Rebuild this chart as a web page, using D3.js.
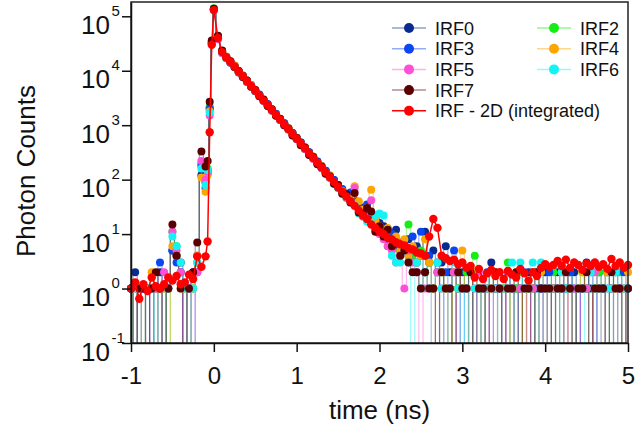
<!DOCTYPE html>
<html>
<head>
<meta charset="UTF-8">
<title>IRF photon counts</title>
<style>
  body { margin: 0; background: #fff; }
  svg { display: block; font-family: "Liberation Sans", Arial, sans-serif; }
</style>
</head>
<body>
<svg id="chart" width="635" height="432"></svg>
<script src="https://d3js.org/d3.v7.min.js"></script>
<script>
// time bins (ns)
const time = [-1, -0.95, -0.9, -0.85, -0.8, -0.75, -0.7, -0.65, -0.6, -0.55, -0.5, -0.45, -0.4, -0.35, -0.3, -0.25, -0.2, -0.15,
  -0.1, -0.075, -0.05, -0.025, 0,
  0.05, 0.1, 0.15, 0.2, 0.25, 0.3, 0.35, 0.4, 0.45, 0.5, 0.55, 0.6, 0.65, 0.7, 0.75, 0.8, 0.85, 0.9, 0.95, 1,
  1.05, 1.1, 1.15, 1.2, 1.25, 1.3, 1.35, 1.4, 1.45, 1.5, 1.55, 1.6, 1.65, 1.7, 1.75, 1.8, 1.85, 1.9, 1.95, 2,
  2.05, 2.1, 2.15, 2.2, 2.25, 2.3, 2.35, 2.4, 2.45, 2.5, 2.55, 2.6, 2.65, 2.7, 2.75, 2.8, 2.85, 2.9, 2.95, 3,
  3.05, 3.1, 3.15, 3.2, 3.25, 3.3, 3.35, 3.4, 3.45, 3.5, 3.55, 3.6, 3.65, 3.7, 3.75, 3.8, 3.85, 3.9, 3.95, 4,
  4.05, 4.1, 4.15, 4.2, 4.25, 4.3, 4.35, 4.4, 4.45, 4.5, 4.55, 4.6, 4.65, 4.7, 4.75, 4.8, 4.85, 4.9, 4.95, 5];

const irf0 = [1, 2, 0, 1, 1, 0, 1, 2, 0, 1, 5, 4, 3, 0, 1, 2, 4, 120,
  90, 150, 2000, 33000, 132000,
  42000, 23000, 18000, 14800, 12300, 9900, 8000, 6600, 5300, 4400, 3600, 2900, 2400, 1950, 1600, 1300, 1080, 880, 720, 590,
  480, 390, 320, 262, 215, 178, 146, 118, 98, 80, 66, 55, 46, 40, 33, 30, 26, 22, 19, 16,
  14, 11, 9, 12, 7, 6, 8, 5, 6, 4, 11, 3, 5, 2, 3, 6, 2, 0, 1, 2,
  1, 0, 2, 1, 0, 1, 3, 1, 0, 1, 2, 0, 1, 1, 0, 2, 1, 0, 1, 2,
  0, 1, 2, 1, 0, 1, 2, 0, 1, 3, 1, 0, 2, 1, 0, 1, 2, 1, 0, 1];

const irf2 = [1, 0, 1, 0, 1, 1, 0, 1, 1, 0, 11, 6, 2, 1, 0, 1, 3, 200,
  100, 160, 2200, 34000, 140000,
  43000, 22500, 17000, 14200, 12200, 9400, 8100, 6200, 5400, 4200, 3600, 2800, 2400, 1850, 1600, 1240, 1070, 830, 700, 550,
  470, 365, 315, 245, 212, 162, 142, 108, 95, 70, 64, 46, 52, 35, 30, 21, 24, 16, 17, 12,
  9, 6, 7, 8, 5, 6, 15, 4, 3, 5, 2, 3, 1, 2, 2, 1, 0, 2, 1, 1,
  2, 0, 4, 1, 0, 1, 2, 1, 1, 1, 3, 0, 1, 2, 0, 1, 1, 2, 0, 1,
  1, 2, 0, 1, 1, 2, 0, 1, 2, 1, 0, 1, 2, 1, 2, 0, 1, 2, 1, 0];

const irf3 = [1, 0, 1, 1, 0, 1, 0, 3, 0, 1, 5, 3, 2, 0, 1, 0, 2, 180,
  70, 130, 2000, 33000, 135000,
  40000, 21500, 17800, 14000, 12400, 9300, 8200, 6300, 5500, 4200, 3650, 2800, 2450, 1880, 1620, 1250, 1090, 840, 720, 560,
  480, 370, 320, 250, 215, 166, 145, 110, 98, 72, 67, 50, 58, 36, 33, 24, 35, 17, 20, 13,
  12, 8, 10, 6, 5, 7, 4, 9, 3, 11, 2, 4, 1, 3, 0, 2, 1, 5, 2, 0,
  1, 2, 0, 1, 1, 2, 0, 1, 1, 0, 2, 1, 0, 1, 2, 1, 0, 1, 1, 0,
  2, 1, 1, 0, 1, 2, 1, 0, 1, 1, 2, 0, 1, 1, 2, 1, 0, 1, 2, 1];

const irf4 = [0, 1, 1, 0, 1, 2, 1, 0, 1, 0, 6, 4, 1, 1, 0, 1, 4, 110,
  60, 120, 1800, 32000, 131000,
  39000, 22800, 18200, 14300, 12500, 9800, 7800, 6500, 5400, 4500, 3450, 2950, 2300, 1980, 1520, 1320, 1010, 880, 670, 590,
  445, 395, 295, 265, 200, 178, 132, 120, 88, 78, 62, 52, 45, 76, 40, 28, 30, 65, 18, 14,
  10, 13, 7, 9, 5, 8, 4, 6, 3, 4, 8, 3, 1, 0, 2, 1, 0, 2, 1, 5,
  1, 0, 2, 1, 0, 1, 1, 2, 0, 1, 1, 0, 2, 1, 0, 1, 1, 0, 2, 1,
  0, 1, 1, 2, 0, 1, 0, 1, 2, 1, 0, 1, 1, 0, 2, 1, 1, 0, 1, 2];

const irf5 = [1, 1, 0, 1, 0, 1, 1, 0, 2, 1, 11, 5, 2, 0, 1, 0, 2, 220,
  100, 140, 1500, 31000, 133000,
  38000, 21000, 17200, 14100, 11600, 9500, 7600, 6300, 5100, 4250, 3400, 2800, 2250, 1850, 1500, 1240, 1000, 830, 660, 560,
  440, 365, 290, 240, 196, 165, 130, 108, 86, 80, 58, 48, 40, 70, 26, 21, 24, 42, 12, 10,
  8, 6, 5, 3, 4, 1, 5, 3, 2, 0, 1, 1, 0, 2, 1, 0, 1, 2, 0, 1,
  1, 0, 1, 2, 0, 1, 0, 1, 1, 0, 2, 1, 0, 1, 1, 0, 1, 2, 0, 1,
  1, 0, 1, 1, 2, 0, 1, 0, 1, 1, 0, 2, 1, 0, 1, 1, 0, 1, 1, 0];

const irf6 = [0, 1, 1, 0, 1, 1, 0, 1, 0, 1, 9, 6, 3, 1, 0, 1, 3, 160,
  80, 150, 1700, 32000, 134000,
  40500, 21800, 17000, 14600, 11800, 9700, 7700, 6450, 5200, 4350, 3480, 2900, 2280, 1920, 1540, 1290, 1020, 860, 680, 575,
  450, 380, 300, 255, 200, 172, 134, 115, 84, 76, 56, 50, 38, 35, 24, 22, 17, 16, 22, 24,
  22, 12, 4, 3, 3, 5, 3, 0, 3, 1, 2, 1, 0, 3, 1, 0, 1, 3, 1, 0,
  1, 0, 1, 1, 0, 1, 2, 1, 0, 1, 1, 3, 0, 3, 1, 1, 3, 0, 3, 1,
  1, 0, 1, 2, 1, 1, 0, 1, 1, 0, 2, 1, 1, 0, 1, 1, 2, 0, 1, 1];

const irf7 = [1, 0, 1, 1, 0, 1, 2, 1, 0, 1, 15, 4, 1, 0, 1, 2, 7, 330,
  175, 220, 2700, 36000, 138000,
  44000, 23500, 17600, 14900, 11700, 9900, 7700, 6600, 5100, 4450, 3400, 2950, 2250, 1960, 1490, 1310, 1000, 870, 650, 580,
  430, 390, 285, 260, 192, 175, 128, 116, 84, 80, 55, 54, 38, 57, 25, 24, 30, 26, 11, 14,
  9, 12, 6, 7, 4, 5, 3, 2, 2, 1, 2, 1, 1, 0, 2, 1, 1, 0, 2, 1,
  1, 2, 0, 1, 1, 0, 1, 2, 1, 0, 1, 1, 2, 0, 1, 1, 0, 2, 1, 1,
  1, 0, 1, 1, 2, 1, 0, 1, 1, 2, 0, 1, 1, 1, 0, 2, 1, 1, 0, 1];

const irf2d = [1.0, 1.3, 0.65, 1.2, 0.9, 1.6, 1.1, 1.0, 1.2, 1.6, 1.4, 1.7, 1.2, 1.3, 1.8, 1.5, 3.9, 2.5,
  3.9, 7.3, 740, 30000, 130000,
  40000, 22000, 17500, 14500, 12000, 9600, 7900, 6400, 5250, 4300, 3500, 2850, 2350, 1900, 1560, 1270, 1040, 850, 690, 565,
  460, 375, 305, 250, 205, 168, 137, 112, 91, 74, 60, 49, 40, 33, 27, 22, 19, 15, 13, 11,
  10, 8.5, 8, 7, 6.5, 6.2, 5.5, 5.2, 4.6, 4.4, 4.0, 9, 19, 13, 4.0, 3.6, 3.2, 3.4, 2.8, 3.0,
  2.4, 2.6, 1.6, 2.3, 1.5, 1.9, 2.2, 1.7, 2.0, 1.5, 2.1, 1.8, 1.6, 2.3, 1.9, 1.4, 2.0, 1.7, 2.4, 2.8,
  2.5, 2.7, 3.2, 2.6, 3.4, 2.4, 3.0, 2.7, 2.2, 2.9, 2.6, 3.0, 2.5, 2.8, 2.3, 3.5, 2.6, 3.0, 2.4, 2.7];

const xTicks = [-1, 0, 1, 2, 3, 4, 5];
const yExponents = [-1, 0, 1, 2, 3, 4, 5];

// drawing order: red (integrated) last, on top
const series = [
  {name: "IRF0", values: irf0, color: "#0b2a8f"},
  {name: "IRF2", values: irf2, color: "#14ee14"},
  {name: "IRF3", values: irf3, color: "#0a46f2"},
  {name: "IRF4", values: irf4, color: "#ffa500"},
  {name: "IRF5", values: irf5, color: "#ff4fd8"},
  {name: "IRF6", values: irf6, color: "#12f4f4"},
  {name: "IRF7", values: irf7, color: "#5a0000"},
  {name: "IRF - 2D (integrated)", values: irf2d, color: "#ff0000"}
];
const legendLeft = ["IRF0", "IRF3", "IRF5", "IRF7", "IRF - 2D (integrated)"];
const legendRight = ["IRF2", "IRF4", "IRF6"];

let plotLeft = 131, plotRight = 628, plotTop = 2, plotBottom = 343;
let svg = d3.select("#chart");

let x = d3.scaleLinear().domain([-1, 5]).range([plotLeft, plotRight]);
let y = d3.scaleLog().domain([0.1, 1.83e5]).range([plotBottom, plotTop]);
// zero counts fall off the log axis: send them below the frame
let yv = v => v > 0 ? y(v) : plotBottom + 20;

svg.append("defs").append("clipPath").attr("id", "plotclip")
  .append("rect").attr("x", plotLeft).attr("y", plotTop)
  .attr("width", plotRight - plotLeft).attr("height", plotBottom - plotTop);

// single detectors: step trace, so empty bins give vertical drops
let stepLine = d3.line().curve(d3.curveStep).x((d, i) => x(time[i])).y(d => yv(d));
let line = d3.line().x((d, i) => x(time[i])).y(d => yv(d));

let plot = svg.append("g");
let others = series.filter(s => s.name != "IRF - 2D (integrated)");
let red = series.find(s => s.name == "IRF - 2D (integrated)");

others.forEach(s => {
  plot.append("path")
    .attr("clip-path", "url(#plotclip)")
    .attr("d", stepLine(s.values))
    .attr("fill", "none")
    .attr("stroke", s.color)
    .attr("stroke-opacity", 0.4)
    .attr("stroke-width", 1.2);
});
others.forEach(s => {
  plot.append("g").selectAll("circle")
    .data(s.values.map((v, i) => [time[i], v]).filter(d => d[1] > 0))
    .enter().append("circle")
    .attr("cx", d => x(d[0]))
    .attr("cy", d => y(d[1]))
    .attr("r", 4)
    .attr("fill", s.color);
});
plot.append("path")
  .attr("clip-path", "url(#plotclip)")
  .attr("d", line(red.values))
  .attr("fill", "none")
  .attr("stroke", red.color)
  .attr("stroke-width", 1.5);
plot.append("g").selectAll("circle")
  .data(red.values.map((v, i) => [time[i], v]).filter(d => d[1] > 0))
  .enter().append("circle")
  .attr("cx", d => x(d[0]))
  .attr("cy", d => y(d[1]))
  .attr("r", 4.2)
  .attr("fill", red.color);

// frame
svg.append("rect")
  .attr("x", plotLeft).attr("y", plotTop)
  .attr("width", plotRight - plotLeft).attr("height", plotBottom - plotTop)
  .attr("fill", "none").attr("stroke", "#222").attr("stroke-width", 1.5);

// x axis
let xAxis = svg.append("g")
  .attr("transform", "translate(0," + plotBottom + ")")
  .call(d3.axisBottom(x).tickValues(xTicks).tickSize(9).tickSizeOuter(0).tickFormat(d => String(d)));
xAxis.select(".domain").attr("stroke", "#111").attr("stroke-width", 1.5);
xAxis.selectAll(".tick line").attr("stroke", "#111").attr("stroke-width", 1.5);
xAxis.selectAll(".tick text")
  .attr("y", 41).attr("dy", 0)
  .attr("fill", "#111")
  .style("font-size", "24px")
  .style("font-family", "'Liberation Sans', Arial, sans-serif");

// y axis, labels as 10 with superscript exponent
let yAxis = svg.append("g")
  .attr("transform", "translate(" + plotLeft + ",0)")
  .call(d3.axisLeft(y).tickValues(yExponents.map(e => Math.pow(10, e))).tickSize(9).tickSizeOuter(0).tickFormat(""));
yAxis.select(".domain").attr("stroke", "#111").attr("stroke-width", 1.5);
yAxis.selectAll(".tick line").attr("stroke", "#111").attr("stroke-width", 1.5);
yAxis.selectAll(".tick").each(function(d, i) {
  let g = d3.select(this);
  g.append("text")
    .attr("x", -21).attr("y", 17)
    .attr("text-anchor", "end")
    .attr("fill", "#111")
    .style("font-size", "26px")
    .style("font-family", "'Liberation Sans', Arial, sans-serif")
    .text("10");
  g.append("text")
    .attr("x", -19.5).attr("y", -1)
    .attr("text-anchor", "start")
    .attr("fill", "#111")
    .style("font-size", "15px")
    .style("font-family", "'Liberation Sans', Arial, sans-serif")
    .text(yExponents[i]);
});

svg.append("text")
  .attr("x", (plotLeft + plotRight) / 2).attr("y", 419)
  .attr("text-anchor", "middle")
  .attr("fill", "#111")
  .style("font-size", "26px")
  .text("time (ns)");

svg.append("text")
  .attr("transform", "translate(35," + 171 + ") rotate(-90)")
  .attr("text-anchor", "middle")
  .attr("fill", "#111")
  .style("font-size", "26px")
  .text("Photon Counts");

// legend
function legendItem(name, lx, row) {
  let s = series.find(e => e.name == name);
  let ly = 28 + row * 20.7;
  let g = svg.append("g");
  g.append("line")
    .attr("x1", lx).attr("x2", lx + 34).attr("y1", ly).attr("y2", ly)
    .attr("stroke", s.color)
    .attr("stroke-opacity", name == "IRF - 2D (integrated)" ? 1 : 0.45)
    .attr("stroke-width", 1.5);
  g.append("circle").attr("cx", lx + 17).attr("cy", ly).attr("r", 5).attr("fill", s.color);
  g.append("text")
    .attr("x", lx + 43).attr("y", ly + 6.5)
    .attr("fill", "#111")
    .style("font-size", "18px")
    .text(name);
}
legendLeft.forEach((n, i) => legendItem(n, 392, i));
legendRight.forEach((n, i) => legendItem(n, 537, i));
</script>
</body>
</html>
